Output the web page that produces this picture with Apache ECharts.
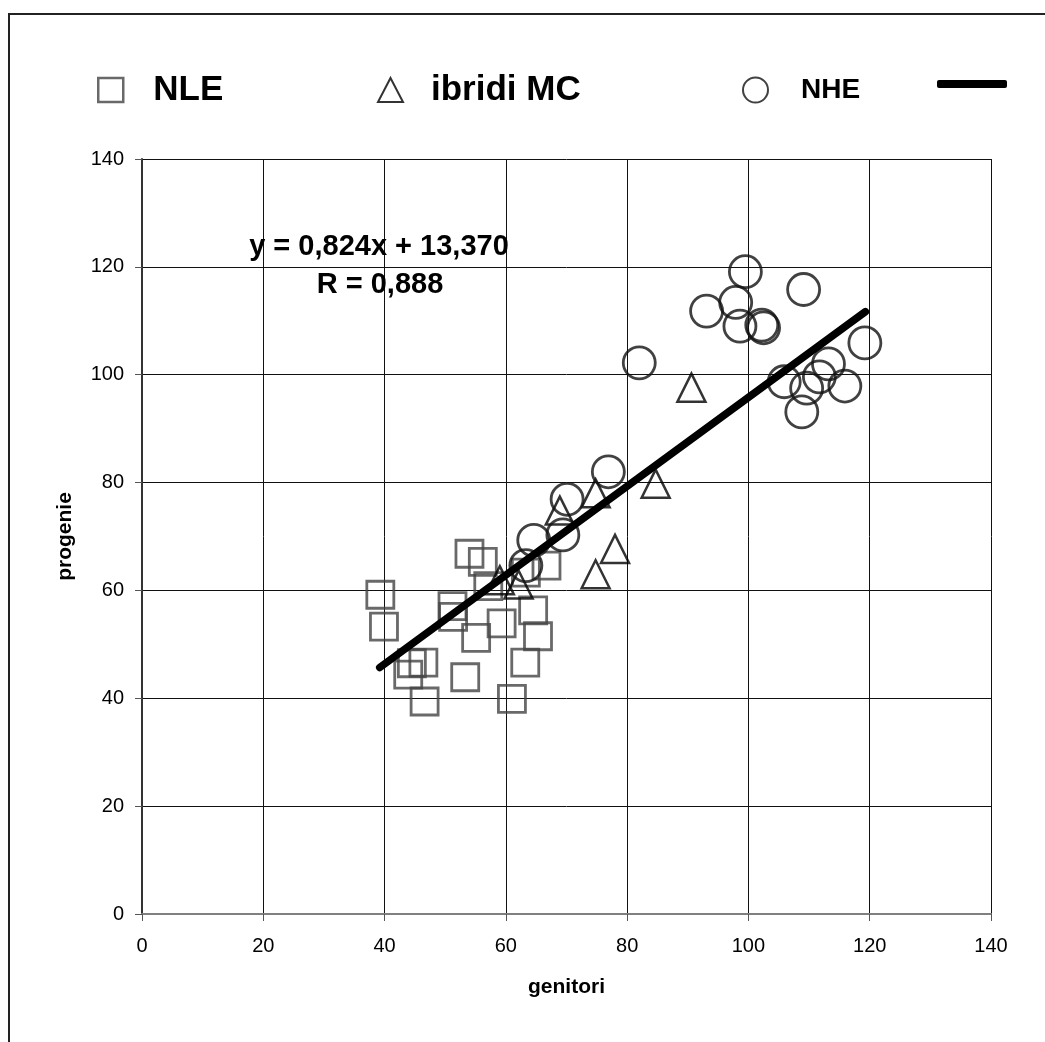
<!DOCTYPE html>
<html>
<head>
<meta charset="utf-8">
<script src="https://cdn.jsdelivr.net/npm/echarts@6/dist/echarts.min.js"></script>
<style>
  html, body { margin: 0; padding: 0; background: #fff; }
  #chart { width: 1045px; height: 1042px; }
</style>
</head>
<body>
<div id="chart"></div>
<script>
// NLE (squares)
const nleX = [39.3, 39.9, 54.0, 56.2, 57.1, 51.2, 51.3, 55.1, 59.3, 64.5, 65.3, 63.2, 61.0, 53.3, 44.5, 46.4, 43.9, 46.6, 66.7, 63.3]
const nleY = [59.2, 53.3, 66.8, 65.3, 60.8, 57.1, 55.1, 51.2, 53.9, 56.3, 51.5, 46.6, 39.9, 43.9, 46.5, 46.6, 44.4, 39.4, 64.6, 63.3]
// ibridi MC (triangles)
const mcX = [59.0, 62.1, 68.9, 74.8, 74.8, 78.0, 84.7, 90.6]
const mcY = [61.9, 61.1, 74.8, 78.0, 63.0, 67.7, 79.8, 97.6]
// NHE (circles)
const nheX = [63.3, 64.6, 69.4, 70.1, 76.9, 82.0, 93.1, 97.9, 98.6, 99.5, 102.2, 102.5, 105.9, 108.8, 109.1, 109.6, 111.7, 113.2, 115.9, 119.2]
const nheY = [64.6, 69.3, 70.3, 76.9, 82.0, 102.2, 111.8, 113.4, 109.0, 119.1, 109.2, 108.7, 98.7, 93.1, 115.8, 97.5, 99.6, 102.0, 97.9, 105.9]
// linear trend, end points
const trendX = [39.2, 119.3]
const trendY = [45.7, 111.7]

const equationText = 'y = 0,824x + 13,370'
const rText = 'R = 0,888'

const FONT = "'Liberation Sans', Arial, sans-serif"
const pairs = (xs, ys) => xs.map((x, i) => [x, ys[i]])

const chart = echarts.init(document.getElementById('chart'), null, { renderer: 'canvas' })

const legendBase = {
  orient: 'horizontal',
  selectedMode: false,
  padding: 0,
  textStyle: { fontFamily: FONT, fontWeight: 'bold', color: '#000', lineHeight: 40 },
}

const options = {
  backgroundColor: '#fff',
  animation: false,
  grid: { left: 142, top: 159, right: 54, bottom: 128 },
  legend: [
    Object.assign({}, legendBase, {
      left: 97, top: 70, itemWidth: 25, itemHeight: 24,
      data: [{ name: 'NLE', icon: 'rect', itemStyle: { color: 'rgba(0,0,0,0)', borderColor: '#444', borderWidth: 2.5 } }],
      textStyle: Object.assign({}, legendBase.textStyle, { fontSize: 35, padding: [0, 0, 0, 25] }),
    }),
    Object.assign({}, legendBase, {
      left: 377, top: 70, itemWidth: 25, itemHeight: 24,
      data: [{ name: 'ibridi MC', icon: 'triangle', itemStyle: { color: 'rgba(0,0,0,0)', borderColor: '#000', borderWidth: 2 } }],
      textStyle: Object.assign({}, legendBase.textStyle, { fontSize: 35, padding: [0, 0, 0, 23] }),
    }),
    Object.assign({}, legendBase, {
      left: 742, top: 70, itemWidth: 25, itemHeight: 25,
      data: [{ name: 'NHE', icon: 'circle', itemStyle: { color: 'rgba(0,0,0,0)', borderColor: '#111', borderWidth: 2 } }],
      textStyle: Object.assign({}, legendBase.textStyle, { fontSize: 28, padding: [0, 0, 0, 28] }),
    }),
    Object.assign({}, legendBase, {
      left: 937, top: 80, itemWidth: 70, itemHeight: 8,
      data: [{ name: 'Lineare', icon: 'roundRect', itemStyle: { color: '#000' } }],
      formatter: () => '',
      textStyle: Object.assign({}, legendBase.textStyle, { fontSize: 10, lineHeight: 8 }),
    }),
  ],
  xAxis: {
    type: 'value', min: 0, max: 140, interval: 20,
    name: 'genitori', nameLocation: 'middle', nameGap: 63,
    nameTextStyle: { fontFamily: FONT, fontWeight: 'bold', fontSize: 21, color: '#000' },
    axisLine: { show: true, lineStyle: { color: '#808080', width: 2 } },
    axisTick: { show: true, inside: false, length: 7, lineStyle: { color: '#555', width: 1 } },
    axisLabel: { margin: 22, fontFamily: FONT, fontSize: 20, color: '#000' },
    splitLine: { show: true, lineStyle: { color: '#111', width: 1 } },
  },
  yAxis: {
    type: 'value', min: 0, max: 140, interval: 20,
    name: 'progenie', nameLocation: 'middle', nameGap: 66,
    nameTextStyle: { fontFamily: FONT, fontWeight: 'bold', fontSize: 21, color: '#000' },
    axisLine: { show: true, lineStyle: { color: '#333', width: 2 } },
    axisTick: { show: true, inside: false, length: 7, lineStyle: { color: '#555', width: 1 } },
    axisLabel: { margin: 18, fontFamily: FONT, fontSize: 20, color: '#000' },
    splitLine: { show: true, lineStyle: { color: '#111', width: 1 } },
  },
  graphic: [
    {
      type: 'rect', z: -10, silent: true,
      shape: { x: 9, y: 14, width: 1200, height: 1200 },
      style: { fill: 'none', stroke: '#222', lineWidth: 2 },
    },
    {
      type: 'text', x: 379, y: 247, z: 100,
      style: { text: equationText, align: 'center', verticalAlign: 'middle', font: 'bold 29px ' + FONT, fill: '#000' },
    },
    {
      type: 'text', x: 380, y: 285, z: 100,
      style: { text: rText, align: 'center', verticalAlign: 'middle', font: 'bold 29px ' + FONT, fill: '#000' },
    },
  ],
  series: [
    {
      name: 'NLE', type: 'scatter', symbol: 'rect', symbolSize: 27,
      itemStyle: { color: 'rgba(0,0,0,0)', borderColor: '#444', borderWidth: 2.8 },
      data: pairs(nleX, nleY), z: 2,
    },
    {
      name: 'ibridi MC', type: 'scatter', symbol: 'triangle', symbolSize: 28,
      itemStyle: { color: 'rgba(0,0,0,0)', borderColor: '#000', borderWidth: 2.5 },
      data: pairs(mcX, mcY), z: 3,
    },
    {
      name: 'NHE', type: 'scatter', symbol: 'circle', symbolSize: 32,
      itemStyle: { color: 'rgba(0,0,0,0)', borderColor: '#111', borderWidth: 2.8 },
      data: pairs(nheX, nheY), z: 4,
    },
    {
      name: 'Lineare', type: 'line', showSymbol: false, symbol: 'none',
      lineStyle: { color: '#000', width: 7.5, cap: 'round' },
      data: pairs(trendX, trendY), z: 5,
    },
  ],
}

chart.setOption(options)
</script>
</body>
</html>
